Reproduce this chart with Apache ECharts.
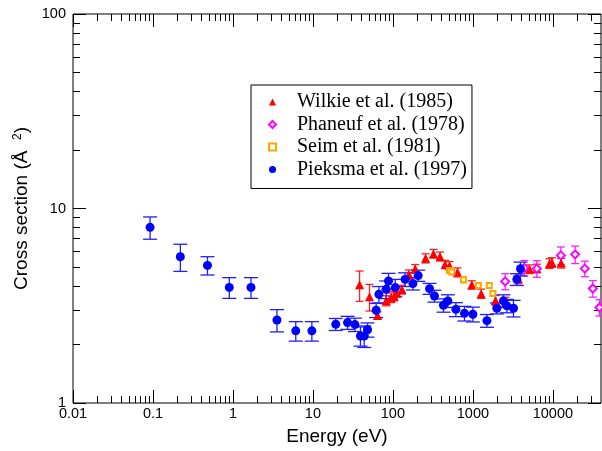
<!DOCTYPE html>
<html><head><meta charset="utf-8">
<script src="https://cdn.jsdelivr.net/npm/echarts@6/dist/echarts.min.js"></script>
<style>html,body{margin:0;padding:0;background:#fff}#c{width:602px;height:451px}</style>
</head><body><div id="c"></div>
<script>
// ---- data ----
const xMajor = [0.01, 0.1, 1, 10, 100, 1000, 10000];
const yMajor = [1, 10, 100];

const wilkieE   = [38.3, 51, 64.3, 82.4, 95, 104, 112, 130, 158, 190, 256, 322, 388, 449, 510, 642, 970, 1270, 1920, 2550, 3700, 5100, 6310, 9080, 9720, 12700];
const wilkieS   = [4.05, 3.52, 2.82, 3.36, 3.48, 3.55, 3.7, 3.83, 4.58, 4.9, 5.55, 5.86, 5.67, 5.16, 5.08, 4.7, 4.05, 3.65, 3.37, 3.3, 4.35, 4.88, 4.92, 5.22, 5.28, 5.24];
const wilkieErr = [0.72, 0.55, 0.12, 0.2, 0.2, 0.2, 0.2, 0.2, 0.25, 0.25, 0.3, 0.3, 0.3, 0.25, 0.25, 0.25, 0.2, 0.2, 0.2, 0.2, 0.25, 0.25, 0.25, 0.3, 0.3, 0.3];

const phaneufE   = [2535, 4400, 6310, 12600, 19000, 25100, 31600, 38300];
const phaneufS   = [4.22, 4.95, 4.91, 5.74, 5.81, 4.91, 3.88, 3.1];
const phaneufErr = [0.4, 0.45, 0.48, 0.6, 0.6, 0.45, 0.38, 0.3];

const seimE   = [510, 545, 763, 1170, 1600, 1780];
const seimS   = [4.8, 4.72, 4.3, 4.02, 4.02, 3.66];
const seimErr = [0.15, 0.15, 0.15, 0.12, 0.12, 0.12];

const pieksmaE   = [0.092, 0.22, 0.48, 0.90, 1.68, 3.55, 6.1, 9.7, 19.3, 27.1, 33.5, 39.3, 43.8, 48.2, 61.8, 66.8, 82.4, 88.1, 107, 142, 178, 207, 287, 331, 429, 487, 613, 785, 1000, 1500, 1995, 2414, 2660, 3220, 3548, 3936];
const pieksmaS   = [8.0, 5.65, 5.1, 3.93, 3.93, 2.67, 2.35, 2.35, 2.54, 2.59, 2.53, 2.21, 2.21, 2.38, 3.0, 3.62, 3.84, 4.24, 3.92, 4.32, 4.11, 4.52, 3.87, 3.55, 3.18, 3.35, 3.03, 2.89, 2.86, 2.65, 3.07, 3.35, 3.16, 3.07, 4.32, 4.9];
const pieksmaErr = [1.05, 0.9, 0.55, 0.48, 0.48, 0.35, 0.27, 0.27, 0.18, 0.2, 0.2, 0.25, 0.28, 0.2, 0.25, 0.35, 0.4, 0.4, 0.4, 0.35, 0.3, 0.3, 0.25, 0.25, 0.25, 0.25, 0.25, 0.25, 0.25, 0.2, 0.2, 0.25, 0.25, 0.3, 0.3, 0.4];

// ---- minor tick positions (log decades) ----
function minorTicks(lo, hi) {
  const out = [];
  for (let d = lo; d < hi; d *= 10) for (let k = 2; k <= 9; k++) out.push(+(k * d).toPrecision(6));
  return out;
}
const xMinor = minorTicks(0.01, 100000).filter(v => v < 40000);
const yMinor = minorTicks(1, 100);

const X_MIN = 0.01, X_MAX = 40000, Y_MIN = 1, Y_MAX = 100;

function pts(E, S) { return E.map((e, i) => [e, S[i]]); }
function bars(E, S, Er) { return E.map((e, i) => [e, S[i] - Er[i], S[i] + Er[i]]); }

function errSeries(name, E, S, Er, color, cap) {
  return {
    type: 'custom', name: name + '_err', xAxisIndex: 0, yAxisIndex: 0, z: 2,
    encode: { x: 0, y: [1, 2] }, silent: true,
    data: bars(E, S, Er),
    renderItem: function (params, api) {
      const x = api.value(0), lo = api.value(1), hi = api.value(2);
      const p1 = api.coord([x, hi]), p2 = api.coord([x, lo]);
      const st = { stroke: color, lineWidth: 1.3, fill: null };
      return { type: 'group', children: [
        { type: 'line', shape: { x1: p1[0], y1: p1[1], x2: p2[0], y2: p2[1] }, style: st },
        { type: 'line', shape: { x1: p1[0] - cap, y1: p1[1], x2: p1[0] + cap, y2: p1[1] }, style: st },
        { type: 'line', shape: { x1: p2[0] - cap, y1: p2[1], x2: p2[0] + cap, y2: p2[1] }, style: st }
      ]};
    }
  };
}

const SANS = 'Liberation Sans, Arial, Helvetica, sans-serif';
const SERIF = 'Liberation Serif, Times New Roman, serif';

function xAx(pos, ticks, len, labels) {
  return {
    type: 'log', logBase: 10, min: X_MIN, max: X_MAX, position: pos,
    axisLine: { show: false },
    splitLine: { show: false },
    axisTick: { show: true, inside: true, length: len, customValues: ticks, lineStyle: { color: '#000', width: 1 } },
    axisLabel: labels ? { show: true, customValues: xMajor, margin: 3, fontSize: 14.5, fontFamily: SANS, color: '#000',
      formatter: v => String(v) } : { show: false },
    name: labels ? 'Energy (eV)' : '',
    nameLocation: 'middle', nameGap: 24,
    nameTextStyle: { fontSize: 19, fontFamily: SANS, color: '#000' }
  };
}
function yAx(pos, ticks, len, labels) {
  return {
    type: 'log', logBase: 10, min: Y_MIN, max: Y_MAX, position: pos,
    axisLine: { show: false },
    splitLine: { show: false },
    axisTick: { show: true, inside: true, length: len, customValues: ticks, lineStyle: { color: '#000', width: 1 } },
    axisLabel: labels ? { show: true, customValues: yMajor, margin: 7, fontSize: 14.5, fontFamily: SANS, color: '#000',
      formatter: v => String(v) } : { show: false },
    name: labels ? 'Cross section (Å  {sup|2})' : '',
    nameLocation: 'middle', nameGap: 40,
    nameTextStyle: { fontSize: 19, fontFamily: SANS, color: '#000',
      rich: { sup: { fontSize: 12, fontFamily: SANS, color: '#000', verticalAlign: 'top', padding: [0, 0, 8, 0] } } }
  };
}

const option = {
  animation: false,
  backgroundColor: '#fff',
  grid: { left: 73, top: 14, right: 1, bottom: 47, show: true, borderColor: '#000', borderWidth: 1, backgroundColor: 'transparent' },
  xAxis: [
    xAx('bottom', xMajor, 13, true),
    xAx('bottom', xMinor, 7, false),
    xAx('top', xMajor, 13, false),
    xAx('top', xMinor, 7, false)
  ],
  yAxis: [
    yAx('left', yMajor, 13, true),
    yAx('left', yMinor, 7, false),
    yAx('right', yMajor, 13, false),
    yAx('right', yMinor, 7, false)
  ],
  legend: {
    data: ['Wilkie et al. (1985)', 'Phaneuf et al. (1978)', 'Seim et al. (1981)', 'Pieksma et al. (1997)'],
    orient: 'vertical', left: 251, top: 85,
    padding: [7, 5, 9, 17],
    itemWidth: 7, itemHeight: 7, itemGap: 2.5,
    borderColor: '#000', borderWidth: 1, backgroundColor: '#fff',
    selectedMode: false,
    formatter: name => '{g|}{t|' + name + '}',
    textStyle: { fontSize: 20, fontFamily: SERIF, color: '#000', lineHeight: 20,
      rich: { g: { width: 16, height: 20 }, t: { fontSize: 20, fontFamily: SERIF, color: '#000', lineHeight: 20 } } }
  },
  series: [
    errSeries('Wilkie', wilkieE, wilkieS, wilkieErr, '#ff2020', 4),
    errSeries('Phaneuf', phaneufE, phaneufS, phaneufErr, '#ff20ff', 4),
    errSeries('Seim', seimE, seimS, seimErr, '#ffa500', 3),
    errSeries('Pieksma', pieksmaE, pieksmaS, pieksmaErr, '#2020ff', 7),
    { type: 'scatter', name: 'Wilkie et al. (1985)', xAxisIndex: 0, yAxisIndex: 0, z: 3,
      symbol: 'triangle', symbolSize: 9, itemStyle: { color: '#ff0000', opacity: 1 }, data: pts(wilkieE, wilkieS) },
    { type: 'scatter', name: 'Phaneuf et al. (1978)', xAxisIndex: 0, yAxisIndex: 0, z: 3,
      symbol: 'emptyDiamond', symbolSize: 8, itemStyle: { color: '#ff00ff', borderColor: '#ff00ff', borderWidth: 1.3, opacity: 1 }, data: pts(phaneufE, phaneufS) },
    { type: 'scatter', name: 'Seim et al. (1981)', xAxisIndex: 0, yAxisIndex: 0, z: 3,
      symbol: 'emptyRect', symbolSize: 5, itemStyle: { color: '#ffa500', borderColor: '#ffa500', borderWidth: 1.2, opacity: 1 }, data: pts(seimE, seimS) },
    { type: 'scatter', name: 'Pieksma et al. (1997)', xAxisIndex: 0, yAxisIndex: 0, z: 3,
      symbol: 'circle', symbolSize: 9, itemStyle: { color: '#0000ff', opacity: 1 }, data: pts(pieksmaE, pieksmaS) }
  ]
};

const chart = echarts.init(document.getElementById('c'), null, { renderer: 'canvas' });
chart.setOption(option);
</script>
</body></html>
